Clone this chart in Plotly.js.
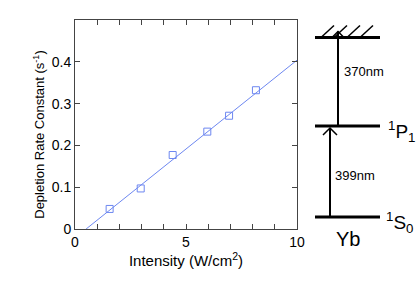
<!DOCTYPE html>
<html>
<head>
<meta charset="utf-8">
<script src="https://cdn.plot.ly/plotly-3.0.1.min.js"></script>
<style>html,body{margin:0;padding:0;background:#fff;}#chart{width:416px;height:282px;}</style>
</head>
<body>
<div id="chart"></div>
<script>
// Measured data
var intensity = [1.56, 2.96, 4.40, 5.96, 6.94, 8.15];
var depletionRate = [0.048, 0.097, 0.177, 0.233, 0.271, 0.332];
// Linear fit line endpoints
var fitX = [0.5, 10];
var fitY = [0.0, 0.404];
// Axis ticks
var yTickVals = [0, 0.1, 0.2, 0.3, 0.4];
var yTickText = ['0', '0.1', '0.2', '0.3', '0.4'];
var xTickVals = [0, 5, 10];
var xTickText = ['0', '5', '10'];
// Energy-level diagram (diagram units, y measured downward from top of figure)
var levelNames = ['<sup>1</sup>S<sub>0</sub>', '<sup>1</sup>P<sub>1</sub>', ''];
var levelY = [217, 126, 37.5];
var transitionLabels = ['399nm', '370nm'];

var blue = '#6d87f0';
var font = 'Liberation Sans, Arial, Helvetica, sans-serif';

var traces = [
  {x: fitX, y: fitY, type: 'scatter', mode: 'lines', line: {color: blue, width: 1}, hoverinfo: 'skip', showlegend: false},
  {x: intensity, y: depletionRate, type: 'scatter', mode: 'markers',
   marker: {symbol: 'square-open', size: 7, color: blue, line: {width: 1, color: blue}}, showlegend: false}
];

var shapes = [];
var lx0 = 315, lx1 = 380;
levelY.forEach(function (ly) {
  shapes.push({type: 'line', xref: 'x2', yref: 'y2', x0: lx0, x1: lx1, y0: ly, y1: ly, line: {color: '#000', width: 3}});
});
// hatches above ionization limit
[321, 334, 347, 360].forEach(function (hx) {
  shapes.push({type: 'line', xref: 'x2', yref: 'y2', x0: hx, x1: hx + 13, y0: levelY[2], y1: levelY[2] - 12, line: {color: '#000', width: 1.5}});
});
// arrows
var arrows = [{x: 330, from: levelY[0], to: levelY[1] + 2}, {x: 338, from: levelY[1], to: levelY[2] - 6}];
arrows.forEach(function (a) {
  shapes.push({type: 'line', xref: 'x2', yref: 'y2', x0: a.x, x1: a.x, y0: a.from, y1: a.to, line: {color: '#000', width: 2}});
  shapes.push({type: 'path', xref: 'x2', yref: 'y2',
    path: 'M ' + (a.x - 7) + ' ' + (a.to + 7) + ' L ' + a.x + ' ' + a.to + ' L ' + (a.x + 7) + ' ' + (a.to + 7),
    line: {color: '#000', width: 1.5}});
});

var annotations = [
  {xref: 'paper', yref: 'paper', x: -0.106, y: 0.455, text: 'Depletion Rate Constant (s<sup>-1</sup>)', textangle: -90, showarrow: false,
   xanchor: 'center', yanchor: 'middle', font: {family: font, size: 13, color: '#000'}},
  {xref: 'x2', yref: 'y2', x: 342, y: 71, text: transitionLabels[1], showarrow: false, xanchor: 'left', yanchor: 'middle', font: {family: font, size: 13, color: '#000'}},
  {xref: 'x2', yref: 'y2', x: 333, y: 175.5, text: transitionLabels[0], showarrow: false, xanchor: 'left', yanchor: 'middle', font: {family: font, size: 13, color: '#000'}},
  {xref: 'x2', yref: 'y2', x: 386, y: levelY[1] + 5, text: levelNames[1], showarrow: false, xanchor: 'left', yanchor: 'middle', font: {family: font, size: 19, color: '#000'}},
  {xref: 'x2', yref: 'y2', x: 384, y: levelY[0] + 5, text: levelNames[0], showarrow: false, xanchor: 'left', yanchor: 'middle', font: {family: font, size: 19, color: '#000'}},
  {xref: 'x2', yref: 'paper', x: 347.5, y: -0.05, text: 'Yb', showarrow: false, xanchor: 'center', yanchor: 'middle', font: {family: font, size: 20, color: '#000'}}
];

var axisCommon = {
  showgrid: false, zeroline: false, showline: true, linecolor: '#444', linewidth: 1,
  mirror: 'ticks', ticks: 'inside', ticklen: 5, tickcolor: '#444', tickwidth: 1,
  tickfont: {family: font, size: 14, color: '#000'}
};

var layout = {
  width: 416, height: 282,
  margin: {l: 75, r: 0, t: 20, b: 53},
  paper_bgcolor: '#fff', plot_bgcolor: '#fff',
  font: {family: font, color: '#000'},
  xaxis: Object.assign({}, axisCommon, {
    domain: [0, 222 / 341], range: [0, 10], tickmode: 'array', tickvals: xTickVals, ticktext: xTickText,
    minor: {dtick: 1, ticks: 'inside', ticklen: 5, tickcolor: '#444'},
    title: {text: 'Intensity (W/cm<sup>2</sup>)', font: {family: font, size: 15, color: '#000'}, standoff: 4}
  }),
  yaxis: Object.assign({}, axisCommon, {
    range: [0, 0.5], tickmode: 'array', tickvals: yTickVals, ticktext: yTickText
  }),
  xaxis2: {domain: [225 / 341, 1], range: [300, 416], visible: false, fixedrange: true, anchor: 'y2'},
  yaxis2: {domain: [0, 1], range: [229, 20], visible: false, fixedrange: true, anchor: 'x2'},
  shapes: shapes,
  annotations: annotations,
  showlegend: false
};

Plotly.newPlot('chart', traces, layout, {displayModeBar: false, staticPlot: true});
</script>
</body>
</html>
